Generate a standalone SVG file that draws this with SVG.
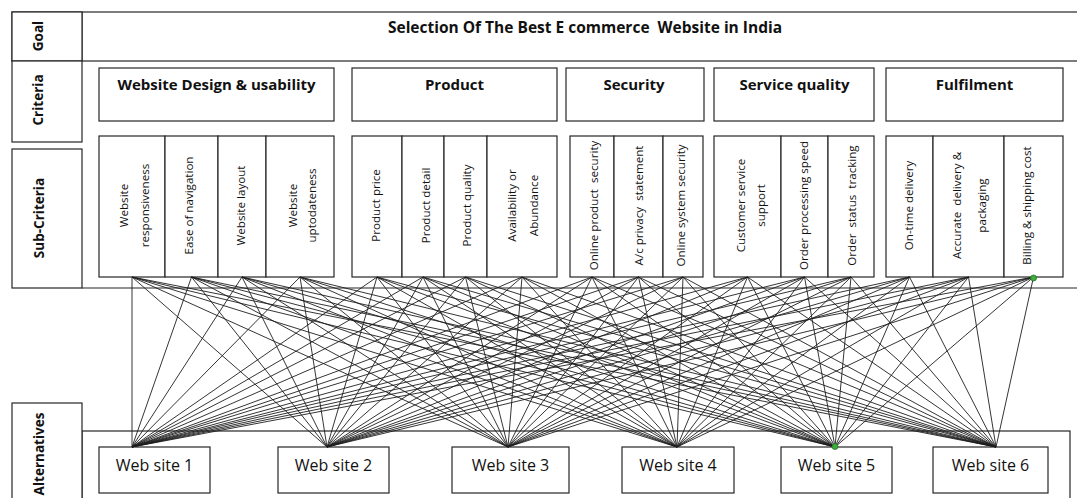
<svg xmlns="http://www.w3.org/2000/svg" width="1077" height="498" viewBox="0 0 1077 498">
  <style>
    text { white-space: pre; }
    .box { fill: #ffffff; stroke: #262626; stroke-width: 1.2; }
    .rule { fill: none; stroke: #262626; stroke-width: 1.2; }
    .lvl { font-family: "Open Sans", "Liberation Sans", sans-serif; font-weight: bold; font-size: 13.5px; fill: #111111; text-anchor: middle; }
    .title { font-family: "Open Sans", "Liberation Sans", sans-serif; font-weight: bold; font-size: 15px; fill: #111111; text-anchor: middle; }
    .goal { font-size: 15.5px; }
    .sub { font-family: "Open Sans", "Liberation Sans", sans-serif; font-size: 11.6px; fill: #111111; text-anchor: middle; }
    .alt { font-family: "Open Sans", "Liberation Sans", sans-serif; font-size: 16px; fill: #111111; text-anchor: middle; }
    .links line { stroke: #1e1e1e; stroke-width: 0.9; }
    .dot { fill: #3dae3a; stroke: #2a6e28; stroke-width: 0.8; }
  </style>

  <rect width="1077" height="498" fill="#ffffff"/>

  <!-- level frames -->
  <g id="frames">
    <rect class="box" x="12" y="12" width="1070" height="49"/>
    <line class="rule" x1="82" y1="12" x2="82" y2="61"/>
    <line class="rule" x1="82" y1="288" x2="1077" y2="288"/>
    <rect class="box" x="82" y="431" width="988" height="80"/>
  </g>

  <!-- level labels -->
  <g id="level-goal">
    <rect class="box" x="12" y="12" width="70" height="49"/>
    <text class="lvl" transform="translate(43,36) rotate(-90)">Goal</text>
  </g>
  <g id="level-criteria">
    <rect class="box" x="12" y="61" width="70" height="81"/>
    <text class="lvl" transform="translate(43,100) rotate(-90)">Criteria</text>
  </g>
  <g id="level-subcriteria">
    <rect class="box" x="12" y="149" width="70" height="139"/>
    <text class="lvl" transform="translate(44,218) rotate(-90)">Sub-Criteria</text>
  </g>
  <g id="level-alternatives">
    <rect class="box" x="12" y="403" width="70" height="110"/>
    <text class="lvl" transform="translate(44,454) rotate(-90)">Alternatives</text>
  </g>

  <!-- goal -->
  <g id="goal">
    <text class="title goal" x="585" y="33">Selection Of The Best E commerce  Website in India</text>
  </g>

  <!-- criteria -->
  <g id="crit-design">
    <rect class="box" x="99" y="68" width="235" height="53"/>
    <text class="title" x="216.5" y="90">Website Design &amp; usability</text>
  </g>
  <g id="crit-product">
    <rect class="box" x="352" y="68" width="205" height="53"/>
    <text class="title" x="454.5" y="90">Product</text>
  </g>
  <g id="crit-security">
    <rect class="box" x="566" y="68" width="138" height="53"/>
    <text class="title" x="634" y="90">Security</text>
  </g>
  <g id="crit-service">
    <rect class="box" x="714" y="68" width="160" height="53"/>
    <text class="title" x="794.5" y="90">Service quality</text>
  </g>
  <g id="crit-fulfilment">
    <rect class="box" x="886" y="68" width="177" height="53"/>
    <text class="title" x="974.5" y="90">Fulfilment</text>
  </g>

  <!-- sub-criteria: Website Design & usability -->
  <g id="sub-responsiveness">
    <rect class="box" x="99" y="136" width="66" height="141"/>
    <text class="sub" transform="translate(128,205.5) rotate(-90)">Website</text>
    <text class="sub" transform="translate(149,205.5) rotate(-90)">responsiveness</text>
  </g>
  <g id="sub-navigation">
    <rect class="box" x="165" y="136" width="53" height="141"/>
    <text class="sub" transform="translate(192.5,205.5) rotate(-90)">Ease of navigation</text>
  </g>
  <g id="sub-layout">
    <rect class="box" x="218" y="136" width="48" height="141"/>
    <text class="sub" transform="translate(244.5,205.5) rotate(-90)">Website layout</text>
  </g>
  <g id="sub-uptodateness">
    <rect class="box" x="266" y="136" width="68" height="141"/>
    <text class="sub" transform="translate(296.5,205.5) rotate(-90)">Website</text>
    <text class="sub" transform="translate(315.5,205.5) rotate(-90)">uptodateness</text>
  </g>

  <!-- sub-criteria: Product -->
  <g id="sub-price">
    <rect class="box" x="352" y="136" width="50" height="141"/>
    <text class="sub" transform="translate(379.5,205.5) rotate(-90)">Product price</text>
  </g>
  <g id="sub-detail">
    <rect class="box" x="402" y="136" width="42" height="141"/>
    <text class="sub" transform="translate(430,205.5) rotate(-90)">Product detail</text>
  </g>
  <g id="sub-quality">
    <rect class="box" x="444" y="136" width="43" height="141"/>
    <text class="sub" transform="translate(470.5,205.5) rotate(-90)">Product quality</text>
  </g>
  <g id="sub-availability">
    <rect class="box" x="487" y="136" width="70" height="141"/>
    <text class="sub" transform="translate(515.5,205.5) rotate(-90)">Availability or</text>
    <text class="sub" transform="translate(537.5,205.5) rotate(-90)">Abundance</text>
  </g>

  <!-- sub-criteria: Security -->
  <g id="sub-product-security">
    <rect class="box" x="570" y="136" width="44" height="141"/>
    <text class="sub" transform="translate(597.5,205.5) rotate(-90)">Online product  security</text>
  </g>
  <g id="sub-privacy">
    <rect class="box" x="614" y="136" width="49" height="141"/>
    <text class="sub" transform="translate(642.5,205.5) rotate(-90)">A/c privacy  statement</text>
  </g>
  <g id="sub-system-security">
    <rect class="box" x="663" y="136" width="40" height="141"/>
    <text class="sub" transform="translate(684.5,205.5) rotate(-90)">Online system security</text>
  </g>

  <!-- sub-criteria: Service quality -->
  <g id="sub-customer-service">
    <rect class="box" x="714" y="136" width="67" height="141"/>
    <text class="sub" transform="translate(744.5,205.5) rotate(-90)">Customer service</text>
    <text class="sub" transform="translate(764.5,205.5) rotate(-90)">support</text>
  </g>
  <g id="sub-processing">
    <rect class="box" x="781" y="136" width="47" height="141"/>
    <text class="sub" transform="translate(807.5,205.5) rotate(-90)">Order processing speed</text>
  </g>
  <g id="sub-tracking">
    <rect class="box" x="828" y="136" width="46" height="141"/>
    <text class="sub" transform="translate(855.5,205.5) rotate(-90)">Order  status  tracking</text>
  </g>

  <!-- sub-criteria: Fulfilment -->
  <g id="sub-ontime">
    <rect class="box" x="886" y="136" width="47" height="141"/>
    <text class="sub" transform="translate(912.5,205.5) rotate(-90)">On-time delivery</text>
  </g>
  <g id="sub-accurate">
    <rect class="box" x="933" y="136" width="71" height="141"/>
    <text class="sub" transform="translate(960.5,205.5) rotate(-90)">Accurate  delivery &amp;</text>
    <text class="sub" transform="translate(985.5,205.5) rotate(-90)">packaging</text>
  </g>
  <g id="sub-billing">
    <rect class="box" x="1004" y="136" width="59" height="141"/>
    <text class="sub" transform="translate(1030.5,205.5) rotate(-90)">Billing &amp; shipping cost</text>
  </g>

  <!-- alternatives -->
  <g id="alt-1">
    <rect class="box" x="99" y="447" width="111" height="46"/>
    <text class="alt" x="154.5" y="471">Web site 1</text>
  </g>
  <g id="alt-2">
    <rect class="box" x="278" y="447" width="111" height="46"/>
    <text class="alt" x="333.5" y="471">Web site 2</text>
  </g>
  <g id="alt-3">
    <rect class="box" x="452" y="447" width="117" height="46"/>
    <text class="alt" x="510.5" y="471">Web site 3</text>
  </g>
  <g id="alt-4">
    <rect class="box" x="622" y="447" width="112" height="46"/>
    <text class="alt" x="678" y="471">Web site 4</text>
  </g>
  <g id="alt-5">
    <rect class="box" x="781" y="447" width="111" height="46"/>
    <text class="alt" x="836.5" y="471">Web site 5</text>
  </g>
  <g id="alt-6">
    <rect class="box" x="933" y="447" width="115" height="46"/>
    <text class="alt" x="990.5" y="471">Web site 6</text>
  </g>

  <!-- every sub-criterion linked to every alternative -->
  <g id="connectors" class="links">
    <line x1="132" y1="277" x2="132" y2="447"/><line x1="132" y1="277" x2="327" y2="447"/><line x1="132" y1="277" x2="508" y2="447"/><line x1="132" y1="277" x2="677" y2="447"/><line x1="132" y1="277" x2="835" y2="447"/><line x1="132" y1="277" x2="996" y2="447"/>
    <line x1="191.5" y1="277" x2="132" y2="447"/><line x1="191.5" y1="277" x2="327" y2="447"/><line x1="191.5" y1="277" x2="508" y2="447"/><line x1="191.5" y1="277" x2="677" y2="447"/><line x1="191.5" y1="277" x2="835" y2="447"/><line x1="191.5" y1="277" x2="996" y2="447"/>
    <line x1="242" y1="277" x2="132" y2="447"/><line x1="242" y1="277" x2="327" y2="447"/><line x1="242" y1="277" x2="508" y2="447"/><line x1="242" y1="277" x2="677" y2="447"/><line x1="242" y1="277" x2="835" y2="447"/><line x1="242" y1="277" x2="996" y2="447"/>
    <line x1="300" y1="277" x2="132" y2="447"/><line x1="300" y1="277" x2="327" y2="447"/><line x1="300" y1="277" x2="508" y2="447"/><line x1="300" y1="277" x2="677" y2="447"/><line x1="300" y1="277" x2="835" y2="447"/><line x1="300" y1="277" x2="996" y2="447"/>
    <line x1="377" y1="277" x2="132" y2="447"/><line x1="377" y1="277" x2="327" y2="447"/><line x1="377" y1="277" x2="508" y2="447"/><line x1="377" y1="277" x2="677" y2="447"/><line x1="377" y1="277" x2="835" y2="447"/><line x1="377" y1="277" x2="996" y2="447"/>
    <line x1="423" y1="277" x2="132" y2="447"/><line x1="423" y1="277" x2="327" y2="447"/><line x1="423" y1="277" x2="508" y2="447"/><line x1="423" y1="277" x2="677" y2="447"/><line x1="423" y1="277" x2="835" y2="447"/><line x1="423" y1="277" x2="996" y2="447"/>
    <line x1="465.5" y1="277" x2="132" y2="447"/><line x1="465.5" y1="277" x2="327" y2="447"/><line x1="465.5" y1="277" x2="508" y2="447"/><line x1="465.5" y1="277" x2="677" y2="447"/><line x1="465.5" y1="277" x2="835" y2="447"/><line x1="465.5" y1="277" x2="996" y2="447"/>
    <line x1="522" y1="277" x2="132" y2="447"/><line x1="522" y1="277" x2="327" y2="447"/><line x1="522" y1="277" x2="508" y2="447"/><line x1="522" y1="277" x2="677" y2="447"/><line x1="522" y1="277" x2="835" y2="447"/><line x1="522" y1="277" x2="996" y2="447"/>
    <line x1="592" y1="277" x2="132" y2="447"/><line x1="592" y1="277" x2="327" y2="447"/><line x1="592" y1="277" x2="508" y2="447"/><line x1="592" y1="277" x2="677" y2="447"/><line x1="592" y1="277" x2="835" y2="447"/><line x1="592" y1="277" x2="996" y2="447"/>
    <line x1="638.5" y1="277" x2="132" y2="447"/><line x1="638.5" y1="277" x2="327" y2="447"/><line x1="638.5" y1="277" x2="508" y2="447"/><line x1="638.5" y1="277" x2="677" y2="447"/><line x1="638.5" y1="277" x2="835" y2="447"/><line x1="638.5" y1="277" x2="996" y2="447"/>
    <line x1="683" y1="277" x2="132" y2="447"/><line x1="683" y1="277" x2="327" y2="447"/><line x1="683" y1="277" x2="508" y2="447"/><line x1="683" y1="277" x2="677" y2="447"/><line x1="683" y1="277" x2="835" y2="447"/><line x1="683" y1="277" x2="996" y2="447"/>
    <line x1="747.5" y1="277" x2="132" y2="447"/><line x1="747.5" y1="277" x2="327" y2="447"/><line x1="747.5" y1="277" x2="508" y2="447"/><line x1="747.5" y1="277" x2="677" y2="447"/><line x1="747.5" y1="277" x2="835" y2="447"/><line x1="747.5" y1="277" x2="996" y2="447"/>
    <line x1="804.5" y1="277" x2="132" y2="447"/><line x1="804.5" y1="277" x2="327" y2="447"/><line x1="804.5" y1="277" x2="508" y2="447"/><line x1="804.5" y1="277" x2="677" y2="447"/><line x1="804.5" y1="277" x2="835" y2="447"/><line x1="804.5" y1="277" x2="996" y2="447"/>
    <line x1="851" y1="277" x2="132" y2="447"/><line x1="851" y1="277" x2="327" y2="447"/><line x1="851" y1="277" x2="508" y2="447"/><line x1="851" y1="277" x2="677" y2="447"/><line x1="851" y1="277" x2="835" y2="447"/><line x1="851" y1="277" x2="996" y2="447"/>
    <line x1="909.5" y1="277" x2="132" y2="447"/><line x1="909.5" y1="277" x2="327" y2="447"/><line x1="909.5" y1="277" x2="508" y2="447"/><line x1="909.5" y1="277" x2="677" y2="447"/><line x1="909.5" y1="277" x2="835" y2="447"/><line x1="909.5" y1="277" x2="996" y2="447"/>
    <line x1="968.5" y1="277" x2="132" y2="447"/><line x1="968.5" y1="277" x2="327" y2="447"/><line x1="968.5" y1="277" x2="508" y2="447"/><line x1="968.5" y1="277" x2="677" y2="447"/><line x1="968.5" y1="277" x2="835" y2="447"/><line x1="968.5" y1="277" x2="996" y2="447"/>
    <line x1="1033.5" y1="277" x2="132" y2="447"/><line x1="1033.5" y1="277" x2="327" y2="447"/><line x1="1033.5" y1="277" x2="508" y2="447"/><line x1="1033.5" y1="277" x2="677" y2="447"/><line x1="1033.5" y1="277" x2="835" y2="447"/><line x1="1033.5" y1="277" x2="996" y2="447"/>
  </g>

  <!-- selected connection handles -->
  <g id="handles">
    <circle class="dot" cx="1033.5" cy="278" r="3"/>
    <circle class="dot" cx="835" cy="446.5" r="3"/>
  </g>
</svg>
